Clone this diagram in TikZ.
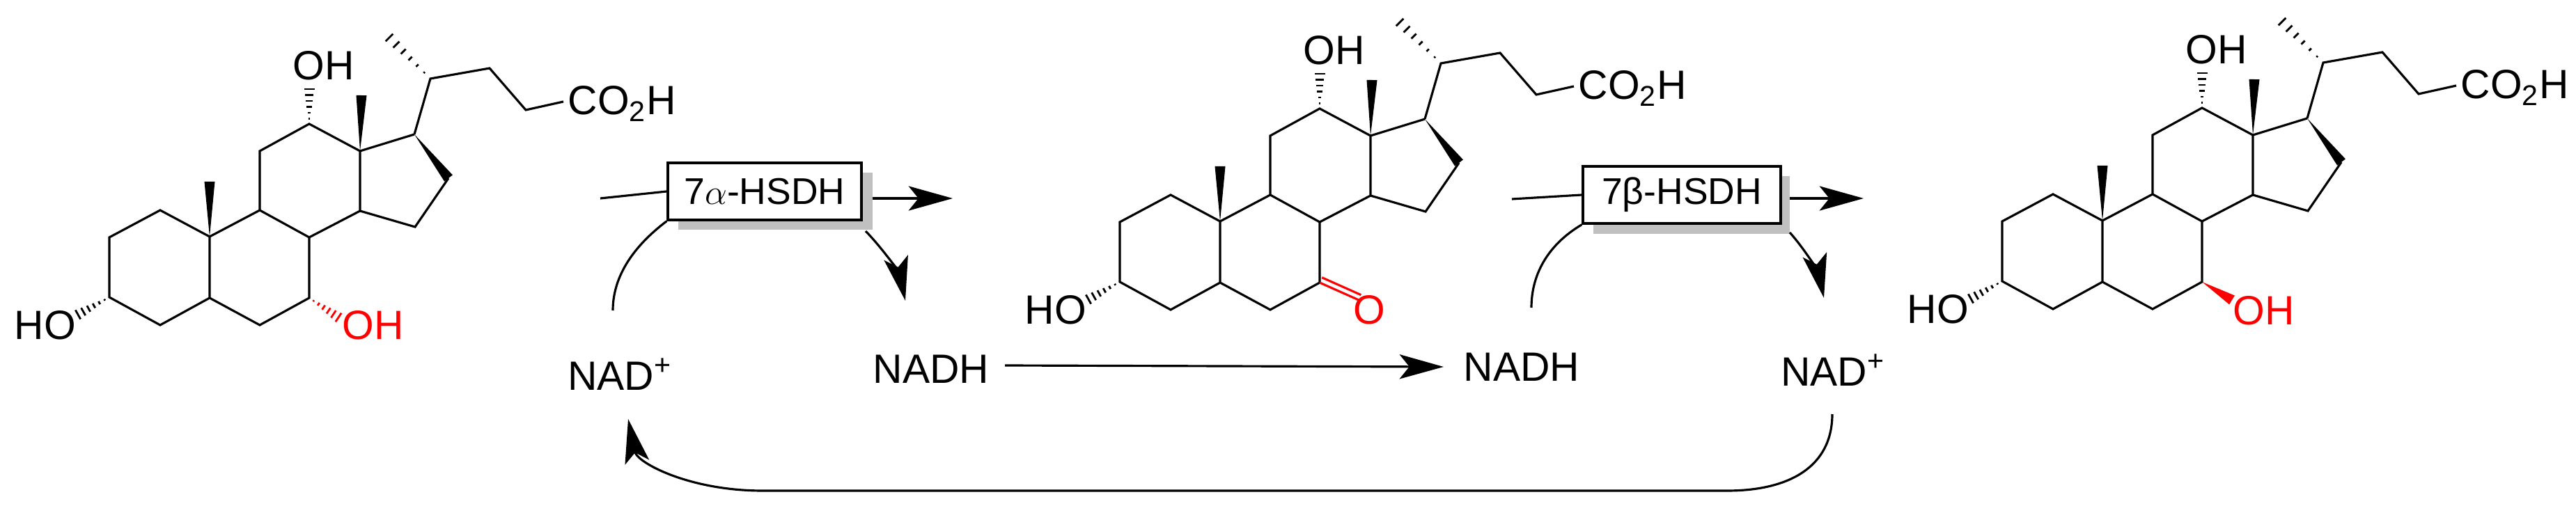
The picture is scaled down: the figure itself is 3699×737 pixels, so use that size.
\documentclass[tikz,border=0pt]{standalone}
\usepackage{fontspec}
\setmainfont{Liberation Sans}
\usetikzlibrary{calc,arrows.meta}
\definecolor{shadowgray}{RGB}{192,192,192}
\newcommand\hashbond[3][black]{%
  \foreach \t in {0.15,0.32,0.49,0.66,0.83,1.0}{%
    \draw[#1,line width=0.8pt] ($(#2)!\t!(#3)!{\t*0.075cm}!90:(#2)$) -- ($(#2)!\t!(#3)!{-\t*0.075cm}!90:(#2)$);}}
\newcommand\wedgebond[3][black]{%
  \fill[#1] (#2) -- ($(#3)!0.075cm!90:(#2)$) -- ($(#3)!-0.075cm!90:(#2)$) -- cycle;}
\newcommand\steroidcore{%
  \coordinate (C1) at (230,302); \coordinate (C2) at (157,341);
  \coordinate (C3) at (157,427); \coordinate (C4) at (230,467);
  \coordinate (C5) at (301,428); \coordinate (C10) at (301,340);
  \coordinate (C6) at (373,467); \coordinate (C7) at (444,428);
  \coordinate (C8) at (444,341); \coordinate (C9) at (373,302);
  \coordinate (C11) at (373,217); \coordinate (C12) at (444,178);
  \coordinate (C13) at (517,217); \coordinate (C14) at (517,303);
  \coordinate (C15) at (596,326); \coordinate (C16) at (644,256);
  \coordinate (C17) at (595,193); \coordinate (C20) at (618,113);
  \coordinate (C21) at (559,54); \coordinate (C22) at (703,98);
  \coordinate (C23) at (755,158); \coordinate (C24) at (809,146);
  \coordinate (M10) at (301,261); \coordinate (M13) at (519,137);
  \coordinate (O12) at (444,128); \coordinate (O3) at (112,452);
  \draw[bond] (C1) -- (C2) -- (C3) -- (C4) -- (C5) -- (C10) -- cycle;
  \draw[bond] (C5) -- (C6) -- (C7) -- (C8) -- (C9) -- (C10);
  \draw[bond] (C8) -- (C14) -- (C13) -- (C12) -- (C11) -- (C9);
  \draw[bond] (C13) -- (C17);
  \draw[bond] (C16) -- (C15) -- (C14);
  \draw[bond] (C17) -- (C20) -- (C22) -- (C23) -- (C24);
  \wedgebond{C17}{C16}
  \wedgebond{C10}{M10}
  \wedgebond{C13}{M13}
  \hashbond{C20}{C21}
  \hashbond{C12}{O12}
  \hashbond{C3}{O3}
  \node[atom,anchor=base west] (co2h) at (815,165) {CO\textsubscript{2}H};
  \node[atom] (oh12) at (465,94) {OH};
  \node[atom] (ho3) at (65,467) {HO};
}
\tikzset{
  bond/.style={line width=0.9pt,line join=miter},
  atom/.style={inner sep=0pt,font=\fontsize{16.7}{19}\selectfont},
  lbl/.style={inner sep=0pt,font=\fontsize{16.7}{19}\selectfont},
  enz/.style={draw,line width=1pt,fill=white,inner xsep=5pt,inner ysep=4pt,minimum width=278*0.01cm,minimum height=82*0.01cm,font=\fontsize{15.2}{18}\selectfont},
  arr/.style={line width=0.9pt,-{Stealth[length=18pt,width=10pt,inset=4pt]}},
  ln/.style={line width=0.9pt},
}
\begin{document}
\begin{tikzpicture}[x=0.01cm,y=-0.01cm]
\useasboundingbox (0,0) rectangle (3699,737);
% molecule 1
\begin{scope}
  \steroidcore
  \coordinate (O7) at (486,456);
  \hashbond[red]{C7}{O7}
  \node[atom,text=red] (oh7a) at (536,467) {OH};
\end{scope}
% molecule 2
\begin{scope}[shift={(1451,-22)}]
  \steroidcore
  \coordinate (O7) at (500,453);
  \draw[bond,red] (C7) -- (O7);
  \draw[bond,red] ($(C7)!0.08cm!90:(O7)$) -- ($(O7)!0.08cm!-90:(C7)$);
  \node[atom,text=red] (oket) at (515,467) {O};
\end{scope}
% molecule 3
\begin{scope}[shift={(2718,-23)}]
  \steroidcore
  \coordinate (O7) at (487,454);
  \wedgebond[red]{C7}{O7}
  \node[atom,text=red] (oh7b) at (533,469) {OH};
\end{scope}
% enzyme 1
\fill[shadowgray] (974,248) rectangle (1253,330);
\node[enz] (e1) at (1098,275) {7$\alpha$-HSDH};
\coordinate (a1s) at (862,285);
\coordinate (a1e) at (1368,285);
\draw[ln] (a1s) -- (e1.west);
\draw[arr] (1253,285) -- (a1e);
\node[lbl] (nad1) at (890,538) {NAD\textsuperscript{+}};
\node[lbl] (nadh1) at (1337,530) {NADH};
\coordinate (c1a) at (880,446);
\draw[ln] (e1.south west) .. controls (912,352) and (880,395) .. (c1a);
\coordinate (c1b) at (1300,432);
\draw[arr] (1243,332) .. controls (1272,362) and (1292,395) .. (c1b);
% NADH transfer
\node[lbl] (nadh2) at (2185,527) {NADH};
\draw[arr] (1443,525) -- ([xshift=-8pt]nadh2.west);
% enzyme 2
\fill[shadowgray] (2288,253) rectangle (2570,336);
\node[enz,minimum width=284*0.01cm] (e2) at (2415,280) {7β-HSDH};
\coordinate (a2s) at (2171,286);
\coordinate (a2e) at (2676,285);
\draw[ln] (a2s) -- (e2.west);
\draw[arr] (2570,285) -- (a2e);
\coordinate (c2a) at (2199,442);
\draw[ln] (e2.south west) .. controls (2222,352) and (2199,395) .. (c2a);
\coordinate (c2b) at (2619,428);
\draw[arr] (2570,334) .. controls (2595,362) and (2612,395) .. (c2b);
\node[lbl] (nad2) at (2632,532) {NAD\textsuperscript{+}};
% recycling
\coordinate (r1) at (2631,595);
\coordinate (r2) at (2480,705);
\coordinate (r3) at (1095,705);
\coordinate (r4) at (902,602);
\draw[arr] (r1) .. controls (2631,670) and (2570,705) .. (r2) -- (r3) .. controls (990,705) and (915,665) .. (r4);
\end{tikzpicture}
\end{document}
